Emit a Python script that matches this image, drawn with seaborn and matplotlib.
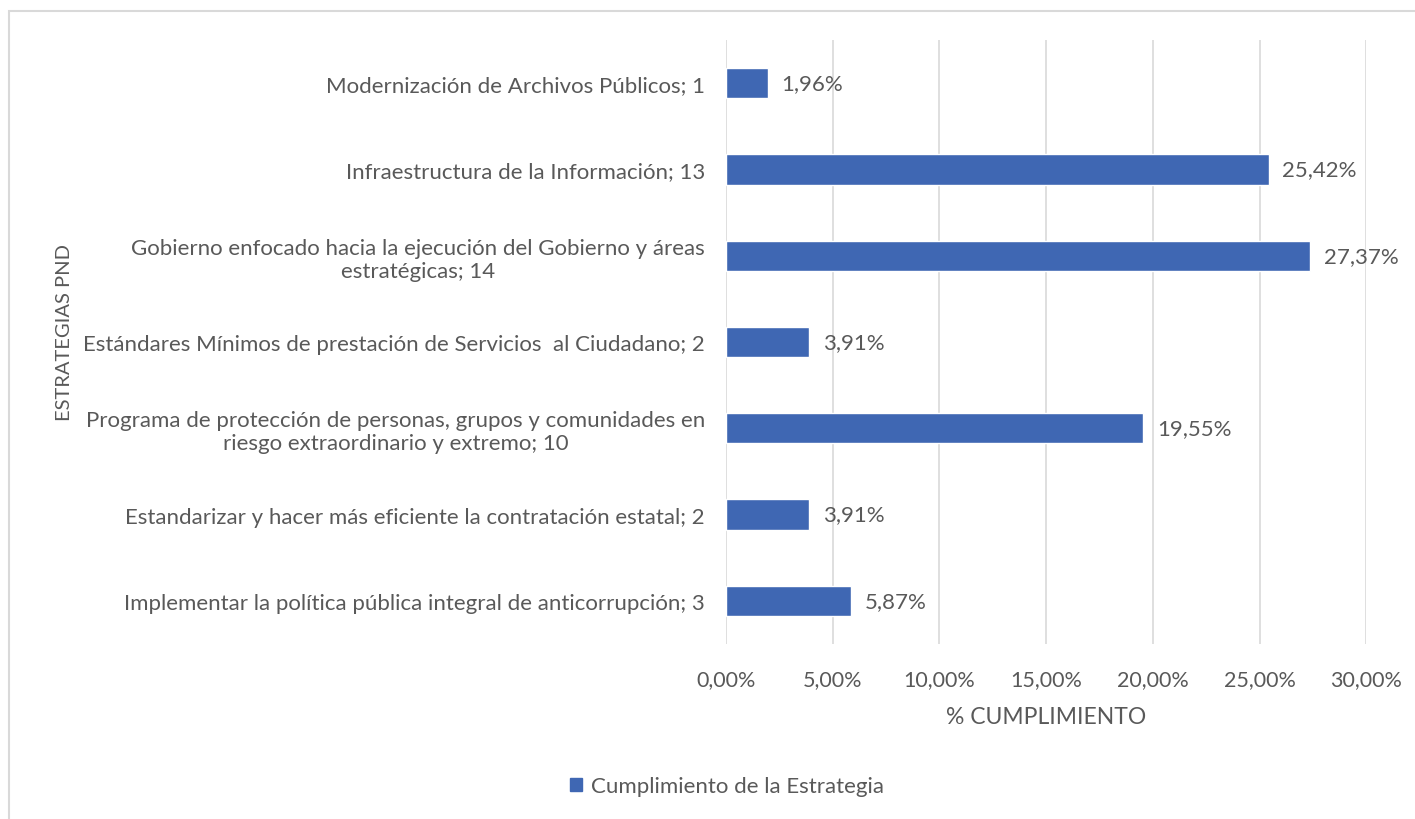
import pandas as pd
import matplotlib.pyplot as plt
import seaborn as sns
from matplotlib.patches import Rectangle

# -----------------------------------------------
# Data
# -----------------------------------------------

estrategias = [
    "Modernización de Archivos Públicos; 1",
    "Infraestructura de la Información; 13",
    "Gobierno enfocado hacia la ejecución del Gobierno y áreas\nestratégicas; 14",
    "Estándares Mínimos de prestación de Servicios  al Ciudadano; 2",
    "Programa de protección de personas, grupos y comunidades en\nriesgo extraordinario y extremo; 10",
    "Estandarizar y hacer más eficiente la contratación estatal; 2",
    "Implementar la política pública integral de anticorrupción; 3",
]
cumplimiento = [1.96, 25.42, 27.37, 3.91, 19.55, 3.91, 5.87]
x_ticks = [0, 5, 10, 15, 20, 25, 30]
serie = "Cumplimiento de la Estrategia"

df = pd.DataFrame({"estrategia": estrategias, "valor": cumplimiento, "serie": serie})

# -----------------------------------------------
# Style
# -----------------------------------------------

sns.set_style("white")
plt.rcParams["font.family"] = ["Lato", "DejaVu Sans"]
text_color = "#595959"
bar_color = "#3F67B3"

fig = plt.figure(figsize=(14.15, 8.2), dpi=100)
ax = fig.add_axes([0.513, 0.2134, 0.4526, 0.7366])

# light frame of the chart area
fig.patches.append(Rectangle((9 / 1415, -0.1), 1.2, 1 - 12 / 820 + 0.1,
                             transform=fig.transFigure, fill=False,
                             edgecolor="#D9D9D9", linewidth=1.5))

sns.barplot(data=df, y="estrategia", x="valor", hue="serie", orient="h",
            palette=[bar_color], saturation=1, width=0.35, ax=ax, legend=False)

# -----------------------------------------------
# Axes
# -----------------------------------------------

ax.set_xlim(0, 30)
ax.set_xticks(x_ticks)
ax.set_xticklabels([f"{t:.2f}%".replace(".", ",") for t in x_ticks])
ax.xaxis.grid(True, color="#D9D9D9", linewidth=1.2)
ax.set_axisbelow(True)
for s in ax.spines.values():
    s.set_visible(False)
ax.tick_params(axis="both", length=0, labelsize=15.5, colors=text_color)
ax.tick_params(axis="y", labelsize=16)
ax.tick_params(axis="x", pad=18)
ax.tick_params(axis="y", pad=15)
for lbl in ax.get_yticklabels():
    lbl.set_multialignment("center")

ax.set_xlabel("% CUMPLIMIENTO", fontsize=16.5, color=text_color, labelpad=12)
ax.set_ylabel("")
fig.text(64 / 1415, 0.595, "ESTRATEGIAS PND", rotation=90, ha="center",
         va="center", fontsize=14.5, color=text_color)

# value labels
for i, v in enumerate(cumplimiento):
    ax.text(v + 0.65, i, f"{v:.2f}%".replace(".", ","), va="center",
            ha="left", fontsize=16, color=text_color)

# legend
handle = Rectangle((0, 0), 1, 1, color=bar_color)
fig.legend([handle], [serie], loc="center", bbox_to_anchor=(0.514, 0.04),
           frameon=False, fontsize=16, labelcolor=text_color,
           handlelength=0.55, handleheight=0.55, handletextpad=0.4)

plt.savefig("out.png", dpi=100)
